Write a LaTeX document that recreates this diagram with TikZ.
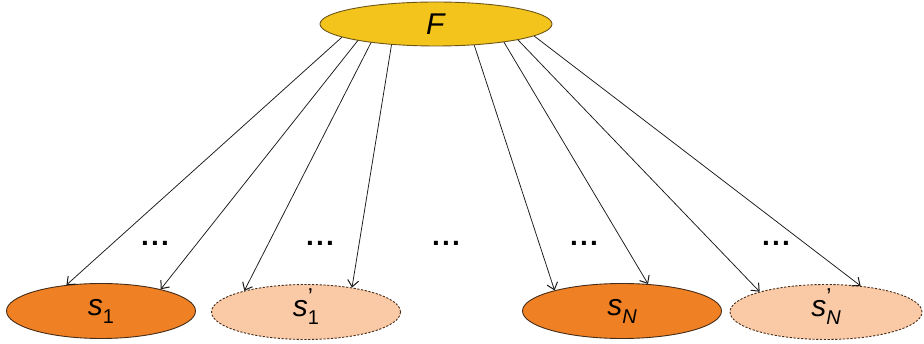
\documentclass[tikz,border=0pt]{standalone}
\usepackage{fontspec}
\setmainfont{Liberation Sans}
\usetikzlibrary{arrows.meta,shapes.geometric}

\definecolor{goldfill}{RGB}{243,197,28}
\definecolor{goldrim}{RGB}{110,85,25}
\definecolor{orangefill}{RGB}{240,128,36}
\definecolor{peachfill}{RGB}{250,201,166}
\definecolor{rimline}{RGB}{70,45,25}

% symbol with optional prime stacked over its subscript
\newcommand{\symsub}[1]{\textit{s}\raisebox{-0.28em}{\fontsize{20}{20}\selectfont #1}}
\newcommand{\symprime}[1]{\textit{s}\rlap{\raisebox{0.40em}{\fontsize{23}{23}\selectfont ’}}\raisebox{-0.28em}{\fontsize{20}{20}\selectfont #1}}
% three spread dots
\newcommand{\threedots}{.\hspace{0.08em}.\hspace{0.08em}.}

\begin{document}
\begin{tikzpicture}[x=1pt,y=-1pt,
  bigfont/.style={font=\fontsize{30}{32}\selectfont},
  top/.style={ellipse,draw=goldrim,fill=goldfill,line width=0.9pt,
    minimum width=232pt,minimum height=44pt,inner sep=0pt,bigfont},
  leaf/.style={ellipse,draw=rimline,line width=0.9pt,
    minimum height=55pt,inner sep=0pt,bigfont,text height=0.9em,text depth=0pt},
  solid leaf/.style={leaf,fill=orangefill},
  ghost leaf/.style={leaf,fill=peachfill,dash pattern=on 2.2pt off 1.6pt},
  link/.style={draw=black!90,line width=0.75pt,-{Straight Barb[length=6.5pt,width=11pt,line width=1pt]}},
  gap/.style={font=\fontsize{28}{30}\selectfont\bfseries}]

\useasboundingbox (0,0) rectangle (924,344);

\node[top] (F) at (436,24) {\textit{F}};

\node[solid leaf,minimum width=189pt] (s1) at (101,311) {\symsub{1}};
\node[ghost leaf,minimum width=189pt] (s1p) at (306,312) {\symprime{1}};
\node[solid leaf,minimum width=199pt] (sN) at (622,311) {\symsub{\textit{N}}};
\node[ghost leaf,minimum width=192pt] (sNp) at (826,312) {\symprime{\textit{N}}};

\node[gap] (d1) at (155,243) {\threedots};
\node[gap] (d2) at (320,243) {\threedots};
\node[gap] (d3) at (446,243) {\threedots};
\node[gap] (d4) at (584,243) {\threedots};
\node[gap] (d5) at (776,243) {\threedots};

\draw[link] (F.188.6) -- (s1.143);
\draw[link] (F.192) -- (s1.20);
\draw[link] (F.196.5) -- (s1p.161);
\draw[link] (F.205.5) -- (s1p.28);
\draw[link] (F.331.7) -- (sN.163);
\draw[link] (F.345.4) -- (sN.46);
\draw[link] (F.349) -- (sNp.163);
\draw[link] (F.353.4) -- (sNp.37);
\end{tikzpicture}
\end{document}
